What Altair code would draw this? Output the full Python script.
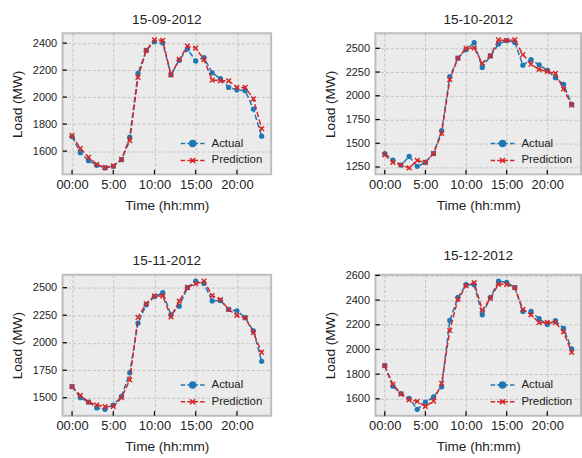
import altair as alt
import pandas as pd

hours = list(range(24))
titles = ["15-09-2012", "15-10-2012", "15-11-2012", "15-12-2012"]

actual_sep = [1708, 1588, 1529, 1495, 1475, 1487, 1536, 1703, 2175, 2346, 2410, 2400,
              2165, 2273, 2356, 2268, 2292, 2180, 2136, 2072, 2053, 2048, 1911, 1710]
pred_sep = [1717, 1620, 1554, 1502, 1478, 1490, 1539, 1678, 2146, 2346, 2425, 2420,
            2165, 2280, 2378, 2363, 2278, 2126, 2121, 2121, 2072, 2072, 1987, 1766]

actual_oct = [1392, 1323, 1271, 1361, 1257, 1299, 1392, 1632, 2201, 2396, 2486, 2559,
              2298, 2420, 2544, 2582, 2562, 2322, 2381, 2326, 2267, 2190, 2121, 1909]
pred_oct = [1378, 1299, 1271, 1240, 1319, 1299, 1392, 1604, 2170, 2396, 2500, 2503,
            2343, 2420, 2590, 2582, 2590, 2433, 2333, 2277, 2256, 2235, 2072, 1902]

actual_nov = [1602, 1500, 1461, 1407, 1395, 1434, 1512, 1728, 2179, 2344, 2419, 2455,
              2253, 2332, 2500, 2560, 2539, 2380, 2383, 2302, 2290, 2227, 2107, 1831]
pred_nov = [1602, 1521, 1461, 1434, 1419, 1422, 1500, 1662, 2230, 2356, 2425, 2425,
            2235, 2377, 2503, 2536, 2560, 2428, 2392, 2302, 2248, 2227, 2092, 1912]

actual_dec = [1868, 1702, 1643, 1603, 1515, 1573, 1616, 1697, 2235, 2421, 2525, 2525,
              2281, 2421, 2554, 2544, 2502, 2308, 2308, 2249, 2203, 2233, 2171, 2005]
pred_dec = [1868, 1718, 1638, 1592, 1579, 1538, 1581, 1726, 2155, 2405, 2517, 2541,
            2319, 2413, 2528, 2528, 2502, 2324, 2281, 2217, 2219, 2217, 2142, 1976]

x_tick_values = [0, 5, 10, 15, 20]
x_tick_labels = ["00:00", "5:00", "10:00", "15:00", "20:00"]
y_ticks_sep = [1600, 1800, 2000, 2200, 2400]
y_ticks_oct = [1250, 1500, 1750, 2000, 2250, 2500]
y_ticks_nov = [1500, 1750, 2000, 2250, 2500]
y_ticks_dec = [1600, 1800, 2000, 2200, 2400, 2600]

series_names = ["Actual", "Prediction"]
BLUE = "#1f77b4"
RED = "#d62728"
FONT = "Liberation Sans"
TXT = "#222222"

label_expr = " : ".join(f"datum.value == {v} ? '{l}'" for v, l in zip(x_tick_values, x_tick_labels)) + " : ''"

X_PATH = "M-1,-1L1,1M-1,1L1,-1"
LEG_ACTUAL = ("M-2,0L-1.25,0M-0.9,0L0.9,0M1.25,0L2,0"
              "M0.5,0A0.5,0.5,0,1,1,-0.5,0A0.5,0.5,0,1,1,0.5,0Z")
LEG_PRED = ("M-2,0L-1.25,0M-0.9,0L0.9,0M1.25,0L2,0"
            "M-0.42,-0.42L0.42,0.42M-0.42,0.42L0.42,-0.42")

legend = alt.Legend(
    title=None, orient="bottom-right", offset=8, padding=0,
    labelFontSize=11.5, labelFont=FONT, labelColor=TXT,
    symbolSize=144, labelOffset=12, rowPadding=4,
    symbolStrokeWidth=1.5, symbolOpacity=1,
)


def panel(title, actual, pred, yticks, width, height):
    df = pd.DataFrame({
        "hour": hours + hours,
        "load": actual + pred,
        "series": ["Actual"] * len(actual) + ["Prediction"] * len(pred),
    })
    vals = actual + pred
    lo, hi = min(vals), max(vals)
    m = (hi - lo) * 0.05
    xs = alt.Scale(domain=[-1.15, 24.15], nice=False, zero=False)
    ys = alt.Scale(domain=[lo - m, hi + m], nice=False, zero=False)
    x = alt.X("hour:Q", scale=xs,
              axis=alt.Axis(values=x_tick_values, labelExpr=label_expr, title="Time (hh:mm)"))
    y = alt.Y("load:Q", scale=ys, axis=alt.Axis(values=yticks, format="d", title="Load (MW)"))
    cscale = alt.Scale(domain=series_names, range=[BLUE, RED])
    color = alt.Color("series:N", scale=cscale, legend=None)

    base = alt.Chart(df)
    a = base.transform_filter("datum.series == 'Actual'")
    p = base.transform_filter("datum.series == 'Prediction'")
    a_line = a.mark_line(strokeDash=[5.5, 2.4], strokeWidth=1.5).encode(x=x, y=y, color=color)
    a_pts = a.mark_point(shape="circle", filled=True, size=28, opacity=1).encode(x=x, y=y, color=color)
    p_line = p.mark_line(strokeDash=[5.5, 2.4], strokeWidth=1.5).encode(x=x, y=y, color=color)
    p_pts = p.mark_point(shape=X_PATH, filled=False, size=22, strokeWidth=1.5, opacity=1).encode(
        x=x, y=y, color=color)

    # legend-only layer (no rows drawn)
    leg = base.transform_filter("false").mark_point(filled=True, strokeWidth=1.5, opacity=1).encode(
        x=x, y=y,
        shape=alt.Shape("series:N", scale=alt.Scale(domain=series_names, range=[LEG_ACTUAL, LEG_PRED]),
                        legend=legend),
        fill=alt.Fill("series:N", scale=alt.Scale(domain=series_names, range=[BLUE, "transparent"]),
                      legend=legend),
        stroke=alt.Stroke("series:N", scale=alt.Scale(domain=series_names, range=[BLUE, RED]),
                          legend=legend),
    )

    xt = alt.Chart(pd.DataFrame({"hour": x_tick_values})).mark_rule(
        color="black", strokeWidth=1.2).encode(
        x=x, y=alt.value(height), y2=alt.value(height - 4.5))
    yt = alt.Chart(pd.DataFrame({"load": yticks})).mark_rule(
        color="black", strokeWidth=1.2).encode(
        y=y, x=alt.value(0), x2=alt.value(4.5))

    return alt.layer(a_line, a_pts, p_line, p_pts, xt, yt, leg).properties(
        width=width, height=height,
        title=alt.Title(title, anchor="middle"),
    )


W, H = 210, 142
W2 = 207
p1 = panel(titles[0], actual_sep, pred_sep, y_ticks_sep, W, H)
p2 = panel(titles[1], actual_oct, pred_oct, y_ticks_oct, W2, H)
p3 = panel(titles[2], actual_nov, pred_nov, y_ticks_nov, W, H)
p4 = panel(titles[3], actual_dec, pred_dec, y_ticks_dec, W2, H)

indep = dict(shape="independent", fill="independent", stroke="independent",
             x="independent", y="independent")
row1 = alt.hconcat(p1, p2, spacing=50).resolve_scale(**indep).resolve_legend(
    shape="independent", fill="independent", stroke="independent")
row2 = alt.hconcat(p3, p4, spacing=50).resolve_scale(**indep).resolve_legend(
    shape="independent", fill="independent", stroke="independent")

chart = alt.vconcat(row1, row2, spacing=35).properties(
    padding={"left": 9, "top": 10, "right": 0, "bottom": 0}
).resolve_scale(**indep).resolve_legend(
    shape="independent", fill="independent", stroke="independent"
).configure_view(
    fill="#ebebeb", stroke="#bdbdbd", strokeWidth=2
).configure_axis(
    grid=True, gridColor="#b8b8b8", gridDash=[3, 2], gridWidth=0.8,
    domain=False, ticks=False,
    labelFont=FONT, titleFont=FONT, labelColor=TXT, titleColor=TXT,
    titleFontWeight="normal", titleFontSize=13.7,
).configure_axisX(
    labelFontSize=13, labelPadding=4, titlePadding=7,
).configure_axisY(
    labelFontSize=11, labelPadding=6, titlePadding=8,
).configure_title(
    font=FONT, fontSize=13.7, fontWeight="normal", color=TXT, offset=7,
)

chart.save("out.html", embed_options={"renderer": "svg", "actions": False})
